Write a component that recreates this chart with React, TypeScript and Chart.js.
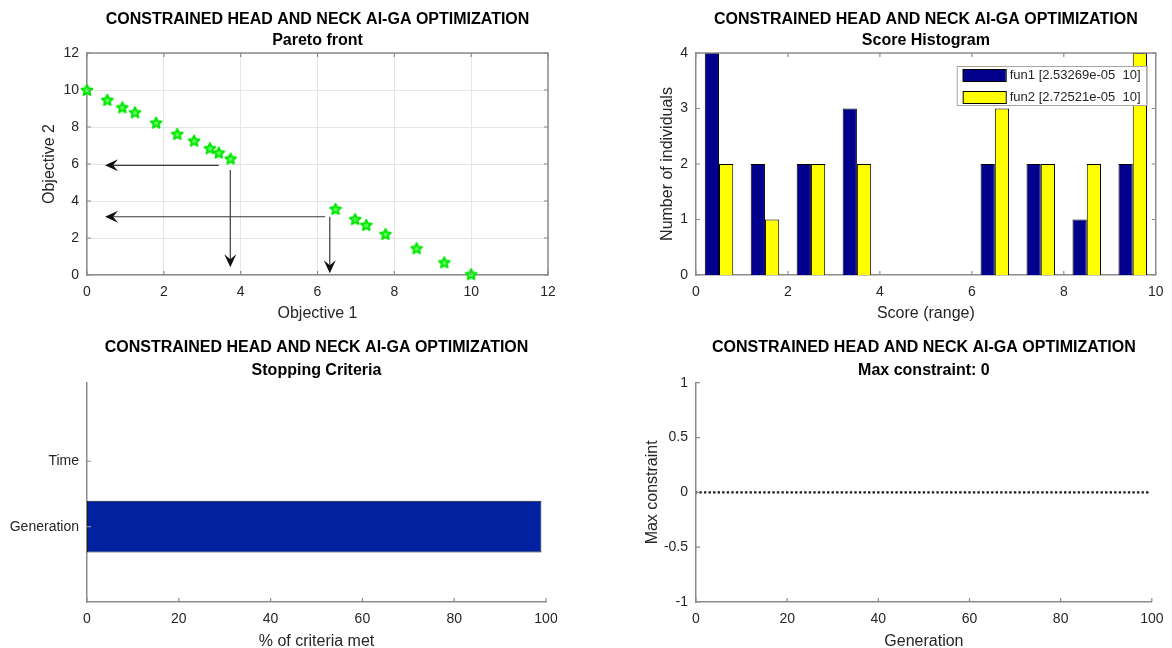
import { useEffect, useRef } from "react";
import { Chart, registerables } from "chart.js";

Chart.register(...registerables);

const FONT = '"Liberation Sans", Arial, Helvetica, sans-serif';
const MAIN_TITLE = "CONSTRAINED HEAD AND NECK AI-GA OPTIMIZATION";

// ---- Panel 1: Pareto front ----
const paretoObjective1 = [0, 0.53, 0.92, 1.25, 1.8, 2.35, 2.79, 3.2, 3.43, 3.74, 6.47, 6.98, 7.27, 7.77, 8.58, 9.3, 10];
const paretoObjective2 = [10, 9.46, 9.06, 8.79, 8.23, 7.62, 7.26, 6.85, 6.61, 6.29, 3.57, 3.02, 2.7, 2.21, 1.44, 0.68, 0.04];
const arrowStartX = [3.43, 3.73, 6.2, 6.32];
const arrowStartY = [5.93, 5.68, 3.15, 3.15];
const arrowEndX = [0.47, 3.73, 0.47, 6.32];
const arrowEndY = [5.93, 0.42, 3.15, 0.09];
const paretoTicks = [0, 2, 4, 6, 8, 10, 12];

// ---- Panel 2: Score histogram ----
const binCenters = [0.5, 1.5, 2.5, 3.5, 4.5, 5.5, 6.5, 7.5, 8.5, 9.5];
const fun1Counts = [4, 2, 2, 3, 0, 0, 2, 2, 1, 2];
const fun2Counts = [2, 1, 2, 2, 0, 0, 3, 2, 2, 4];
const fun1Label = "fun1 [2.53269e-05  10]";
const fun2Label = "fun2 [2.72521e-05  10]";

// ---- Panel 3: Stopping criteria ----
const stopCategories = ["Generation", "Time"];
const stopPositions = [1, 2];
const stopPercent = [99, 0];

// ---- Panel 4: Max constraint ----
const generations = [
  0, 1, 2, 3, 4, 5, 6, 7, 8, 9, 10, 11, 12, 13, 14, 15, 16, 17, 18, 19,
  20, 21, 22, 23, 24, 25, 26, 27, 28, 29, 30, 31, 32, 33, 34, 35, 36, 37, 38, 39,
  40, 41, 42, 43, 44, 45, 46, 47, 48, 49, 50, 51, 52, 53, 54, 55, 56, 57, 58, 59,
  60, 61, 62, 63, 64, 65, 66, 67, 68, 69, 70, 71, 72, 73, 74, 75, 76, 77, 78, 79,
  80, 81, 82, 83, 84, 85, 86, 87, 88, 89, 90, 91, 92, 93, 94, 95, 96, 97, 98, 99,
];
const maxConstraint = [
  0, 0, 0, 0, 0, 0, 0, 0, 0, 0, 0, 0, 0, 0, 0, 0, 0, 0, 0, 0,
  0, 0, 0, 0, 0, 0, 0, 0, 0, 0, 0, 0, 0, 0, 0, 0, 0, 0, 0, 0,
  0, 0, 0, 0, 0, 0, 0, 0, 0, 0, 0, 0, 0, 0, 0, 0, 0, 0, 0, 0,
  0, 0, 0, 0, 0, 0, 0, 0, 0, 0, 0, 0, 0, 0, 0, 0, 0, 0, 0, 0,
  0, 0, 0, 0, 0, 0, 0, 0, 0, 0, 0, 0, 0, 0, 0, 0, 0, 0, 0, 0,
];
const constraintTicks = [-1, -0.5, 0, 0.5, 1];

const TEXT = "#262626";
const AXIS = "#8c8c8c";
const tickFont = { family: FONT, size: 14 };
const axisTitleFont = { family: FONT, size: 16 };
const titleFont = { family: FONT, size: 16, weight: "bold" as const };

function titles(sub: string, top: number, gap: number, subBottom: number) {
  return {
    title: {
      display: true, text: MAIN_TITLE, fullSize: false, color: "#000",
      font: titleFont, padding: { top, bottom: gap },
    },
    subtitle: {
      display: true, text: sub, fullSize: false, color: "#000",
      font: titleFont, padding: { top: 0, bottom: subBottom },
    },
    legend: { display: false },
    tooltip: { enabled: false },
  };
}

function xScale(min: number, max: number, step: number, title: string, height: number, titleBottom: number, grid: boolean, extra: any = {}) {
  return {
    type: "linear", min, max, offset: false,
    ticks: { stepSize: step, padding: 8.5, color: TEXT, font: tickFont, maxRotation: 0 },
    grid: { display: grid, color: "#e6e6e6", drawTicks: false, offset: false },
    border: { display: true, color: AXIS, width: 1.5 },
    title: { display: !!title, text: title, color: TEXT, font: axisTitleFont, padding: { top: 0, bottom: titleBottom } },
    afterFit: (s: any) => { s.height = height; },
    ...extra,
  };
}

function yScale(min: number, max: number, step: number, title: string, width: number, titleTop: number, grid: boolean, extra: any = {}) {
  return {
    type: "linear", min, max, offset: false,
    ticks: { stepSize: step, padding: 8, color: TEXT, font: tickFont },
    grid: { display: grid, color: "#e6e6e6", drawTicks: false, offset: false },
    border: { display: true, color: AXIS, width: 1.5 },
    title: { display: !!title, text: title, color: TEXT, font: axisTitleFont, padding: { top: titleTop, bottom: 0 } },
    afterFit: (s: any) => { s.width = width; },
    ...extra,
  };
}

// Inward MATLAB-style tick marks and optional box
const matlabAxesPlugin = {
  id: "matlabAxes",
  afterDatasetsDraw(chart: any, _args: any, opts: any) {
    const { ctx, chartArea: a, scales } = chart;
    const xs = scales.x, ys = scales.y;
    const L = 4;
    ctx.save();
    ctx.strokeStyle = AXIS;
    ctx.lineWidth = 1.2;
    ctx.beginPath();
    xs.ticks.forEach((t: any) => {
      const px = xs.getPixelForValue(t.value);
      ctx.moveTo(px, a.bottom); ctx.lineTo(px, a.bottom - L);
      if (opts && opts.box) { ctx.moveTo(px, a.top); ctx.lineTo(px, a.top + L); }
    });
    ys.ticks.forEach((t: any) => {
      const py = ys.getPixelForValue(t.value);
      ctx.moveTo(a.left, py); ctx.lineTo(a.left + L, py);
      if (opts && opts.box) { ctx.moveTo(a.right, py); ctx.lineTo(a.right - L, py); }
    });
    ctx.stroke();
    if (opts && opts.box) {
      ctx.lineWidth = 1.5;
      ctx.beginPath();
      ctx.moveTo(a.left, a.top); ctx.lineTo(a.right, a.top); ctx.lineTo(a.right, a.bottom);
      ctx.stroke();
    }
    ctx.restore();
  },
};

const arrowPlugin = {
  id: "paretoArrows",
  afterDatasetsDraw(chart: any) {
    const { ctx, scales } = chart;
    const xs = scales.x, ys = scales.y;
    ctx.save();
    ctx.strokeStyle = "#3a3a3a";
    ctx.fillStyle = "#111";
    ctx.lineWidth = 1.2;
    for (let i = 0; i < arrowStartX.length; i++) {
      const x0 = xs.getPixelForValue(arrowStartX[i]);
      const y0 = ys.getPixelForValue(arrowStartY[i]);
      const x1 = xs.getPixelForValue(arrowEndX[i]);
      const y1 = ys.getPixelForValue(arrowEndY[i]);
      const dx = x1 - x0, dy = y1 - y0;
      const len = Math.hypot(dx, dy) || 1;
      const ux = dx / len, uy = dy / len, px = -uy, py = ux;
      const Lh = 13, W = 6, N = 8;
      ctx.beginPath();
      ctx.moveTo(x0, y0);
      ctx.lineTo(x1 - ux * N, y1 - uy * N);
      ctx.stroke();
      ctx.beginPath();
      ctx.moveTo(x1, y1);
      ctx.lineTo(x1 - ux * Lh + px * W, y1 - uy * Lh + py * W);
      ctx.lineTo(x1 - ux * N, y1 - uy * N);
      ctx.lineTo(x1 - ux * Lh - px * W, y1 - uy * Lh - py * W);
      ctx.closePath();
      ctx.fill();
    }
    ctx.restore();
  },
};

const histLegendPlugin = {
  id: "histLegend",
  afterDraw(chart: any) {
    const { ctx, chartArea: a } = chart;
    const w = 190, h = 39;
    const x = a.right - 9 - w, y = a.top + 13;
    ctx.save();
    ctx.fillStyle = "#fff";
    ctx.fillRect(x, y, w, h);
    ctx.strokeStyle = "#a6a6a6";
    ctx.lineWidth = 1;
    ctx.strokeRect(x + 0.5, y + 0.5, w, h);
    ctx.font = `13px ${FONT}`;
    ctx.textBaseline = "middle";
    chart.data.datasets.forEach((ds: any, i: number) => {
      const cy = y + 9 + i * 22;
      ctx.fillStyle = ds.backgroundColor;
      ctx.fillRect(x + 6, cy - 6, 43, 12);
      ctx.strokeStyle = "#000";
      ctx.strokeRect(x + 6.5, cy - 5.5, 43, 12);
      ctx.fillStyle = TEXT;
      ctx.fillText(ds.label, x + 53, cy);
    });
    ctx.restore();
  },
};

function makePentagram(): HTMLCanvasElement {
  const c = document.createElement("canvas");
  c.width = 14; c.height = 14;
  const g = c.getContext("2d")!;
  const cx = 7, cy = 7.4, R = 5.6, r = 2.6;
  g.beginPath();
  for (let k = 0; k < 10; k++) {
    const ang = -Math.PI / 2 + (k * Math.PI) / 5;
    const rad = k % 2 === 0 ? R : r;
    const px = cx + rad * Math.cos(ang), py = cy + rad * Math.sin(ang);
    if (k === 0) g.moveTo(px, py); else g.lineTo(px, py);
  }
  g.closePath();
  g.fillStyle = "#5cff5c";
  g.fill();
  g.strokeStyle = "#00e600";
  g.lineWidth = 2;
  g.lineJoin = "round";
  g.stroke();
  return c;
}

function buildPareto(canvas: HTMLCanvasElement) {
  const star = makePentagram();
  return new Chart(canvas, {
    type: "scatter",
    data: {
      datasets: [{
        data: paretoObjective1.map((x, i) => ({ x, y: paretoObjective2[i] })),
        pointStyle: star as any, pointRadius: 6, clip: false as any,
        backgroundColor: "#00ff00", borderColor: "#00cc00",
      }],
    },
    options: {
      responsive: false, animation: false,
      layout: { padding: { left: 0, right: 38, top: 0, bottom: 0 } },
      plugins: { ...titles("Pareto front", 9.7, 2.5, 2.4), matlabAxes: { box: true } } as any,
      scales: {
        x: xScale(0, 12, 2, "Objective 1", 49, 0.5, true, {
          afterBuildTicks: (s: any) => { s.ticks = paretoTicks.map((v) => ({ value: v })); },
        }),
        y: yScale(0, 12, 2, "Objective 2", 87, 40, true, {
          afterBuildTicks: (s: any) => { s.ticks = paretoTicks.map((v) => ({ value: v })); },
        }),
      } as any,
    },
    plugins: [matlabAxesPlugin, arrowPlugin],
  });
}

function buildHistogram(canvas: HTMLCanvasElement) {
  return new Chart(canvas, {
    type: "bar",
    data: {
      datasets: [
        {
          label: fun1Label,
          data: binCenters.map((x, i) => ({ x, y: fun1Counts[i] })),
          backgroundColor: "#00008c", borderColor: "#000", borderWidth: 1,
        },
        {
          label: fun2Label,
          data: binCenters.map((x, i) => ({ x, y: fun2Counts[i] })),
          backgroundColor: "#ffff00", borderColor: "#000", borderWidth: 1,
        },
      ] as any,
    },
    options: {
      responsive: false, animation: false,
      datasets: { bar: { categoryPercentage: 0.62, barPercentage: 1 } },
      layout: { padding: { left: 0, right: 13, top: 0, bottom: 0 } },
      plugins: { ...titles("Score Histogram", 9.7, 2.5, 2.4), matlabAxes: { box: true } } as any,
      scales: {
        x: xScale(0, 10, 2, "Score (range)", 49, 0.5, false),
        y: yScale(0, 4, 1, "Number of individuals", 110, 72, false),
      } as any,
    },
    plugins: [matlabAxesPlugin, histLegendPlugin],
  });
}

function buildStopping(canvas: HTMLCanvasElement) {
  return new Chart(canvas, {
    type: "bar",
    data: {
      datasets: [{
        data: stopPositions.map((y, i) => ({ x: stopPercent[i], y })),
        backgroundColor: "#0022a0", borderColor: "#1a1a1a", borderWidth: 1, borderSkipped: false,
      }] as any,
    },
    options: {
      responsive: false, animation: false, indexAxis: "y",
      datasets: { bar: { categoryPercentage: 1, barPercentage: 0.79 } },
      layout: { padding: { left: 0, right: 40, top: 0, bottom: 0 } },
      plugins: { ...titles("Stopping Criteria", 14.1, 3.4, 2.8), matlabAxes: { box: false } } as any,
      scales: {
        x: xScale(0, 100, 20, "% of criteria met", 46, -3.5, false),
        y: yScale(-0.15, 3.2, 1, "", 87, 0, false, {
          afterBuildTicks: (s: any) => { s.ticks = stopPositions.map((v) => ({ value: v })); },
          ticks: {
            padding: 8, color: TEXT, font: tickFont, autoSkip: false,
            callback: (v: any) => stopCategories[stopPositions.indexOf(Number(v))] ?? "",
          },
        }),
      } as any,
    },
    plugins: [matlabAxesPlugin],
  });
}

function buildConstraint(canvas: HTMLCanvasElement) {
  return new Chart(canvas, {
    type: "scatter",
    data: {
      datasets: [{
        data: generations.map((x, i) => ({ x, y: maxConstraint[i] })),
        pointStyle: "rect", pointRadius: 1.7, pointBorderWidth: 0,
        backgroundColor: "#1a1a1a", borderColor: "#1a1a1a", showLine: false,
      }],
    },
    options: {
      responsive: false, animation: false,
      layout: { padding: { left: 0, right: 13, top: 0, bottom: 0 } },
      plugins: { ...titles("Max constraint: 0", 14.1, 3.4, 2.8), matlabAxes: { box: false } } as any,
      scales: {
        x: xScale(0, 100, 20, "Generation", 46, -3.5, false),
        y: yScale(-1, 1, 0.5, "Max constraint", 110, 57, false, {
          afterBuildTicks: (s: any) => { s.ticks = constraintTicks.map((v) => ({ value: v })); },
          ticks: {
            padding: 8, color: TEXT, font: tickFont, autoSkip: false,
            callback: (v: any) => String(v),
          },
        }),
      } as any,
    },
    plugins: [matlabAxesPlugin],
  });
}

function Panel(props: { left: number; top: number; width: number; height: number; build: (c: HTMLCanvasElement) => Chart }) {
  const ref = useRef<HTMLCanvasElement>(null);
  useEffect(() => {
    const chart = props.build(ref.current!);
    return () => chart.destroy();
  }, []);
  return (
    <canvas
      ref={ref}
      width={props.width}
      height={props.height}
      style={{ position: "absolute", left: props.left, top: props.top, width: props.width, height: props.height }}
    />
  );
}

export default function App() {
  return (
    <div style={{ position: "fixed", left: 0, top: 0, width: 1172, height: 648, background: "#fff", overflow: "hidden" }}>
      <Panel left={0} top={0} width={586} height={324} build={buildPareto} />
      <Panel left={586} top={0} width={586} height={324} build={buildHistogram} />
      <Panel left={0} top={324} width={586} height={324} build={buildStopping} />
      <Panel left={586} top={324} width={586} height={324} build={buildConstraint} />
    </div>
  );
}
